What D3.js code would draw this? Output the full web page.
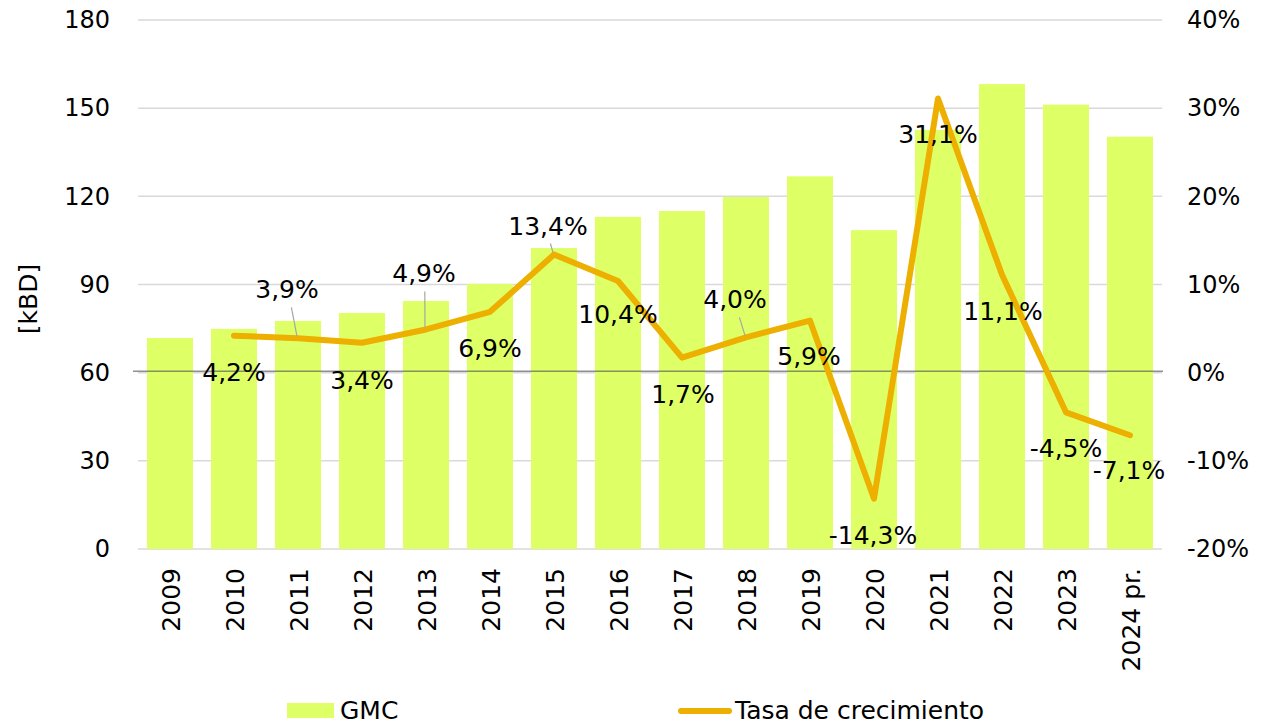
<!DOCTYPE html>
<head>
<meta charset="utf-8">
<title>GMC</title>
<script src="https://d3js.org/d3.v7.min.js"></script>
<style>
body { margin: 0; background: #fff; }
.axis text { fill: #000; font-family: "DejaVu Sans", Verdana, sans-serif; font-size: 24px; }
.axis path, .axis line { display: none; }
.xaxis text { font-size: 25px; }
.grid line { stroke: #d9d9d9; stroke-width: 1.5; }
.bar { fill: #dfff66; }
.line { fill: none; stroke: #edb000; stroke-width: 6; stroke-linejoin: round; stroke-linecap: round; }
.lbl { fill: #000; font-family: "DejaVu Sans", Verdana, sans-serif; font-size: 25px; }
.leader { stroke: #a6a6a6; stroke-width: 1.2; }
.legend text { font-family: "DejaVu Sans", Verdana, sans-serif; font-size: 25px; fill: #000; }
</style>
</head>
<body>
<div id="container"></div>
<script>
// data
const years = ["2009","2010","2011","2012","2013","2014","2015","2016","2017","2018","2019","2020","2021","2022","2023","2024 pr."];
const gmc = [71.8, 74.9, 77.6, 80.3, 84.4, 90.2, 102.4, 113.0, 115.0, 119.8, 126.8, 108.5, 142.6, 158.2, 151.2, 140.3];
const growth = [null, 4.2, 3.9, 3.4, 4.9, 6.9, 13.4, 10.4, 1.7, 4.0, 5.9, -14.3, 31.1, 11.1, -4.5, -7.1];
const leftTicks = [0, 30, 60, 90, 120, 150, 180];
const rightTicks = [-20, -10, 0, 10, 20, 30, 40];

// label placement (dx, dy from point, leader flag)
const labelPos = [null, [0,36,0], [-11,-49,1], [0,37,0], [-2,-56,1], [0,36,0], [-6,-29,1], [0,33,0],
  [1,36,0], [-11,-38,1], [-1,35,0], [-1,36,0], [0,36,0], [1,36,0], [0,36,0], [-1,35,0]];

const W = 1272, H = 727;
const x0 = 138, x1 = 1162, yTop = 20, yBot = 549;

const svg = d3.select("#container").append("svg")
    .attr("width", W).attr("height", H);

const x = d3.scaleBand().domain(years).range([x0, x1]).paddingInner(0.28).paddingOuter(0.14);
const yL = d3.scaleLinear().domain([0, 180]).range([yBot, yTop]);
const yR = d3.scaleLinear().domain([-20, 40]).range([yBot, yTop]);

// grid
svg.append("g").attr("class", "grid")
  .selectAll("line").data(leftTicks).enter().append("line")
    .attr("x1", x0).attr("x2", x1)
    .attr("y1", d => yL(d)).attr("y2", d => yL(d));

// bars
svg.selectAll(".bar").data(gmc).enter().append("rect")
    .attr("class", "bar")
    .attr("x", (d, i) => x(years[i]))
    .attr("width", x.bandwidth())
    .attr("y", d => yL(d))
    .attr("height", d => yBot - yL(d));

// zero line of the right axis
svg.append("line")
    .attr("x1", x0 - 5).attr("x2", x1 + 1)
    .attr("y1", yR(0) - 1.5).attr("y2", yR(0) - 1.5)
    .attr("stroke", "#595959").attr("stroke-width", 1);

// axes
svg.append("g").attr("class", "axis")
    .attr("transform", "translate(" + (x0 - 18) + ",0)")
    .call(d3.axisLeft(yL).tickValues(leftTicks).tickSize(0).tickPadding(10));

svg.append("g").attr("class", "axis")
    .attr("transform", "translate(" + (x1 + 15) + ",0)")
    .call(d3.axisRight(yR).tickValues(rightTicks).tickSize(0).tickPadding(10).tickFormat(d => d + "%"));

const xa = svg.append("g").attr("class", "axis xaxis")
    .attr("transform", "translate(0," + yBot + ")")
    .call(d3.axisBottom(x).tickSize(0).tickPadding(0));
xa.selectAll("text")
    .attr("transform", "rotate(-90)")
    .attr("x", -19).attr("y", 1).attr("dy", "0.36em")
    .style("text-anchor", "end");

svg.append("text")
    .attr("class", "lbl")
    .attr("transform", "translate(28," + 299 + ") rotate(-90)")
    .attr("text-anchor", "middle")
    .attr("dy", "0.35em")
    .text("[kBD]");

// line
const pts = growth.map((g, i) => ({ g: g, i: i })).filter(d => d.g !== null);
const cx = i => x(years[i]) + x.bandwidth() / 2;
const line = d3.line().x(d => cx(d.i)).y(d => yR(d.g));
svg.append("path").attr("class", "line").attr("d", line(pts));

// data labels
const fmt = v => String(v.toFixed(1)).replace(".", ",") + "%";
pts.forEach(d => {
  const p = labelPos[d.i];
  const px = cx(d.i), py = yR(d.g);
  if (p[2]) {
    svg.append("line").attr("class", "leader")
      .attr("x1", px - 1).attr("y1", py - 2)
      .attr("x2", px + p[0] * 0.6).attr("y2", py + p[1] + 18);
  }
  svg.append("text").attr("class", "lbl")
    .attr("x", px + p[0]).attr("y", py + p[1])
    .attr("dy", "0.36em")
    .attr("text-anchor", "middle")
    .text(fmt(d.g));
});

// legend
const lg = svg.append("g").attr("class", "legend");
lg.append("rect").attr("x", 287).attr("y", 703).attr("width", 47).attr("height", 15).attr("fill", "#dfff66");
lg.append("text").attr("x", 340).attr("y", 719).text("GMC");
lg.append("line").attr("x1", 681).attr("x2", 729).attr("y1", 711).attr("y2", 711)
    .attr("stroke", "#edb000").attr("stroke-width", 6).attr("stroke-linecap", "round");
lg.append("text").attr("x", 735).attr("y", 719).text("Tasa de crecimiento");
</script>
</body>
